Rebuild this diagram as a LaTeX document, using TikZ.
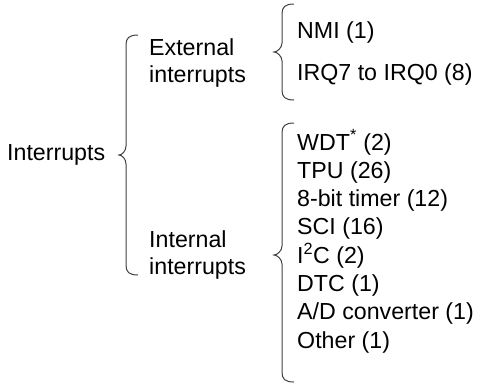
\documentclass[tikz,border=0pt]{standalone}
\usepackage{fontspec}
\setmainfont{Liberation Sans}
\newcommand\mybrace[6]{%
  \draw[brace] (#6,#3) .. controls ({#1+3},#3) and (#1,{#3+3}) .. (#1,{#3+10})
    -- (#1,{#4-9}) .. controls (#1,{#4-4}) and ({#2+3},#4) .. (#2,#4)
    .. controls ({#2+3},#4) and (#1,{#4+4}) .. (#1,{#4+9})
    -- (#1,{#5-10}) .. controls (#1,{#5-3}) and ({#1+3},#5) .. (#6,#5);}
\begin{document}
\begin{tikzpicture}[x=1pt,y=-1pt,
  lbl/.style={anchor=base west, inner sep=0pt, font=\fontsize{23.2}{27}\selectfont},
  brace/.style={draw=black!75, line width=1pt}]
\useasboundingbox (0,0) rectangle (481,384);
\node[lbl] (root) at (7,160) {Interrupts};
\node[lbl] (ext1) at (149,55) {External};
\node[lbl] (ext2) at (149,82) {interrupts};
\node[lbl] (int1) at (149,247) {Internal};
\node[lbl] (int2) at (149,274) {interrupts};
\node[lbl] (nmi) at (297,38) {NMI (1)};
\node[lbl] (irq) at (297,80) {IRQ7 to IRQ0 (8)};
\node[lbl] (wdt) at (297,150) {WDT\textsuperscript{*} (2)};
\node[lbl] (tpu) at (297,178.3) {TPU (26)};
\node[lbl] (tmr) at (297,206.6) {8-bit timer (12)};
\node[lbl] (sci) at (297,234.9) {SCI (16)};
\node[lbl] (iic) at (297,263.2) {I\textsuperscript{2}C (2)};
\node[lbl] (dtc) at (297,291.5) {DTC (1)};
\node[lbl] (adc) at (297,319.8) {A/D converter (1)};
\node[lbl] (oth) at (297,348.1) {Other (1)};
\mybrace{126}{119}{35}{155}{275}{138}
\mybrace{282}{274}{4}{52}{100}{294}
\mybrace{282}{274}{123}{255}{382}{294}
\end{tikzpicture}
\end{document}
